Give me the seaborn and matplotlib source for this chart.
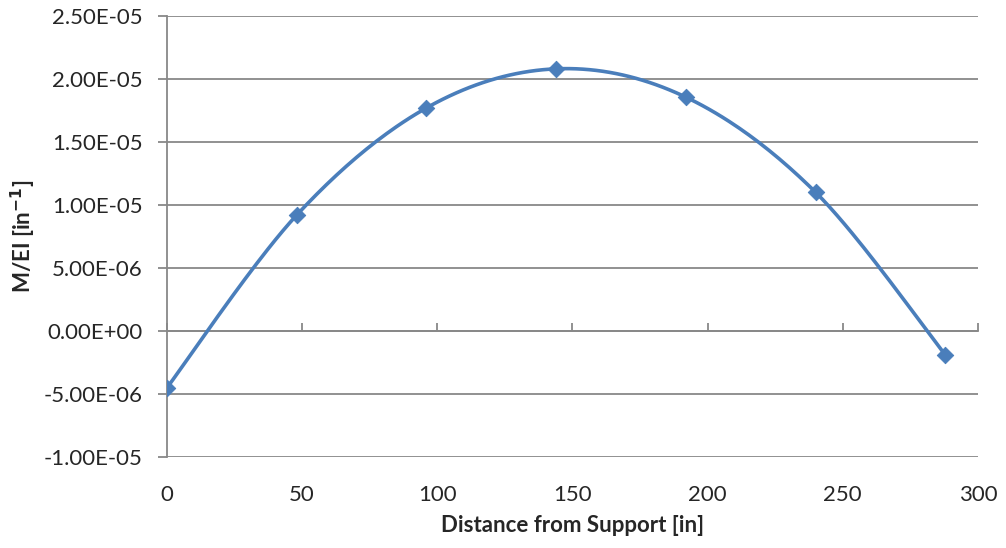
import numpy as np
import pandas as pd
import matplotlib
matplotlib.use("Agg")
import matplotlib.pyplot as plt
import seaborn as sns

# data
distance = [0, 48, 96, 144, 192, 240, 288]
curvature = [-4.5e-6, 9.2e-6, 1.77e-5, 2.08e-5, 1.855e-5, 1.10e-5, -1.9e-6]

df = pd.DataFrame({"distance": distance, "curvature": curvature})


def smooth_line(xs, ys, n=40):
    # Excel-style smoothed line (Catmull-Rom / Bezier through the points)
    xs = np.asarray(xs, float)
    ys = np.asarray(ys, float)
    px = np.concatenate([[xs[0]], xs, [xs[-1]]])
    py = np.concatenate([[ys[0]], ys, [ys[-1]]])
    out_x, out_y = [], []
    t = np.linspace(0, 1, n)
    for i in range(1, len(px) - 2):
        p0, p1, p2, p3 = px[i-1], px[i], px[i+1], px[i+2]
        q0, q1, q2, q3 = py[i-1], py[i], py[i+1], py[i+2]
        c1x, c1y = p1 + (p2 - p0) / 6, q1 + (q2 - q0) / 6
        c2x, c2y = p2 - (p3 - p1) / 6, q2 - (q3 - q1) / 6
        bx = (1-t)**3*p1 + 3*(1-t)**2*t*c1x + 3*(1-t)*t**2*c2x + t**3*p2
        by = (1-t)**3*q1 + 3*(1-t)**2*t*c1y + 3*(1-t)*t**2*c2y + t**3*q2
        out_x.extend(bx)
        out_y.extend(by)
    return np.array(out_x), np.array(out_y)


sns.set_style("white")
plt.rcParams['font.family'] = ['Lato', 'DejaVu Sans']

fig = plt.figure(figsize=(10.06, 5.48), dpi=100)
ax = fig.add_axes([0.166, 0.166, 0.806, 0.805])

blue = "#4A7EBB"
sx, sy = smooth_line(df.distance, df.curvature)
sns.lineplot(x=sx, y=sy, ax=ax, color=blue, lw=2.6, sort=False, zorder=3)
sns.scatterplot(data=df, x="distance", y="curvature", ax=ax, marker="D",
                s=70, color=blue, edgecolor=blue, zorder=4)

ax.set_xlim(0, 300)
ax.set_ylim(-1e-5, 2.5e-5)
ax.set_xticks(np.arange(0, 301, 50))
ax.set_yticks(np.arange(-1e-5, 2.51e-5, 5e-6))
ax.set_yticklabels(["%.2E" % v if abs(v) > 1e-12 else "0.00E+00"
                    for v in ax.get_yticks()])

grid_c = "#888888"
ax.yaxis.grid(True, color=grid_c, lw=1.3)
ax.xaxis.grid(False)
for s in ["top", "right", "bottom"]:
    ax.spines[s].set_visible(False)
ax.spines["left"].set_color(grid_c)
ax.spines["left"].set_linewidth(1.3)

# x axis line crosses at y = 0, with its ticks pointing up
ylo, yhi = ax.get_ylim()
xax = ax.secondary_xaxis((0 - ylo) / (yhi - ylo))
xax.set_xticks(np.arange(0, 301, 50))
xax.tick_params(direction="in", length=6, width=1.3, color=grid_c,
                labelbottom=False)
xax.spines["bottom"].set_color(grid_c)
xax.spines["bottom"].set_linewidth(1.3)

ax.tick_params(axis="x", length=0, pad=20, labelsize=16)
ax.tick_params(axis="y", direction="out", length=6.5, width=1.3, color=grid_c,
               pad=11, labelsize=16, left=True)

ax.set_xlabel("Distance from Support [in]", fontsize=16, fontweight="bold",
              labelpad=7)
ax.set_ylabel("M/EI [in$^{\\mathbf{-1}}$]", fontsize=16, fontweight="bold",
              labelpad=4)

fig.savefig("out.png", dpi=100)
